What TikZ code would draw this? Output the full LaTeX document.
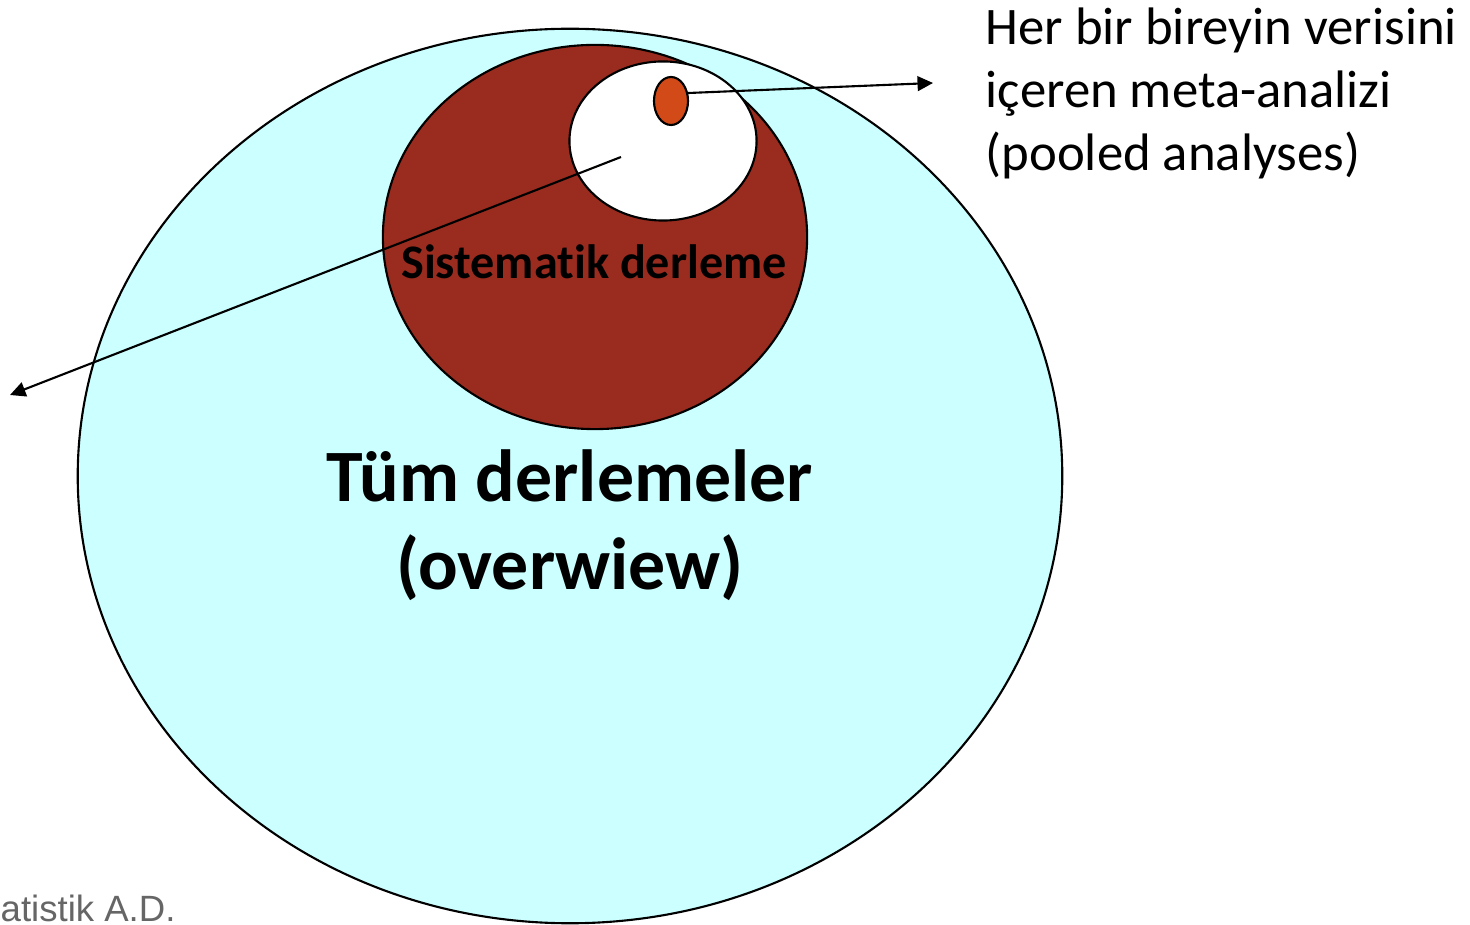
\documentclass[tikz,border=0pt]{standalone}
\usepackage{fontspec}
\setmainfont{Carlito}[RawFeature={-liga;-clig;-dlig;-calt;-rlig}]
\newfontfamily\grayfont{Liberation Sans}
\usetikzlibrary{shapes.geometric,arrows.meta}
\definecolor{cyanfill}{RGB}{204,255,255}
\definecolor{brownfill}{RGB}{153,43,31}
\definecolor{orangefill}{RGB}{210,74,23}
\definecolor{graytext}{RGB}{102,102,102}
\tikzset{
  blob/.style={ellipse, draw=black, line width=0.6pt, inner sep=0pt},
  pointer/.style={line width=0.6pt, -{Triangle[length=4.4pt,width=4.2pt]}},
  txt/.style={inner sep=0pt, anchor=base},
  sidetxt/.style={inner sep=0pt, anchor=base west, font=\fontsize{15pt}{18pt}\selectfont},
}
\begin{document}
\begin{tikzpicture}[x=0.01cm,y=-0.01cm]
\useasboundingbox (0,0) rectangle (1470,925);
\node[blob, fill=cyanfill, minimum width=9.84cm, minimum height=8.94cm] (all) at (570,476) {};
\node[blob, fill=brownfill, minimum width=4.24cm, minimum height=3.84cm] (sys) at (595,237) {};
\node[blob, fill=white, minimum width=1.87cm, minimum height=1.59cm] (meta) at (663,141) {};
\node[blob, fill=orangefill, minimum width=0.34cm, minimum height=0.48cm] (ipd) at (671,101) {};
\coordinate (e1) at (933,83);
\coordinate (s2) at (621,157);
\coordinate (e2) at (10,395);
\draw[pointer] (ipd.25) -- (e1);
\draw[pointer] (s2) -- (e2);
\node[txt, font=\bfseries\fontsize{13.7pt}{16pt}\selectfont] (lsys) at (594,279) {Sistematik derleme};
\node[txt, font=\bfseries\fontsize{21pt}{25pt}\selectfont] (lall1) at (570,502) {Tüm derlemeler};
\node[txt, font=\bfseries\fontsize{21pt}{25pt}\selectfont] (lall2) at (570,590) {(overwiew)};
\node[sidetxt] (r1) at (985,45) {Her bir bireyin verisini};
\node[sidetxt] (r2) at (985,108) {içeren meta-analizi};
\node[sidetxt] (r3) at (985,171) {(pooled analyses)};
\node[txt, anchor=base west, text=graytext, font=\grayfont\fontsize{10.4pt}{13pt}\selectfont] (foot) at (0,921) {atistik A.D.};
\end{tikzpicture}
\end{document}
